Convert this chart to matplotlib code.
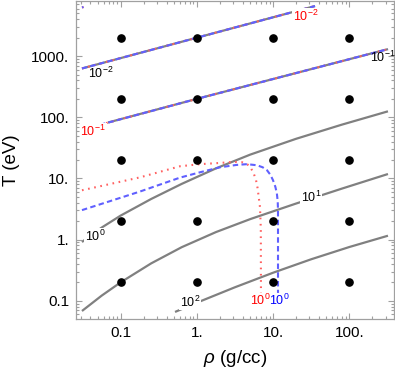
import matplotlib
matplotlib.use("Agg")
import matplotlib.pyplot as plt
from matplotlib.ticker import FixedLocator, FixedFormatter, LogLocator, NullFormatter

plt.rcParams['font.family'] = ['Liberation Sans', 'DejaVu Sans']
plt.rcParams['mathtext.fontset'] = 'custom'
plt.rcParams['mathtext.rm'] = 'Liberation Sans'
plt.rcParams['mathtext.it'] = 'Liberation Sans:italic'

# grid of sample points
dens_pts = [0.1, 1, 10, 100]
temp_pts = [0.2, 2, 20, 200, 2000]

# gray contours (coupling parameter)
g_m2_rho = [0.031, 1.0, 35.5]
g_m2_T = [628, 2000, 6580]
g_m1_rho = [0.068, 1.0, 322]
g_m1_T = [82, 200, 1300]
g_0_rho = [0.031, 0.0562, 0.1, 0.251, 0.631, 1.78, 5.01, 20.0, 79.4, 322]
g_0_T = [0.912, 1.57, 2.47, 4.61, 8.13, 14.6, 24.5, 44.4, 75.5, 125]
g_1_rho = [0.031, 0.0562, 0.1, 0.251, 0.631, 1.78, 5.01, 20.0, 79.4, 322]
g_1_T = [0.0679, 0.121, 0.200, 0.408, 0.750, 1.326, 2.16, 3.88, 6.79, 11.8]
g_2_rho = [0.516, 1.0, 3.16, 10, 31.6, 100, 322]
g_2_T = [0.0655, 0.0929, 0.166, 0.287, 0.476, 0.755, 1.156]

# red dotted contours
r_m2_rho = [0.031, 1.0, 35.5]
r_m2_T = [628, 2000, 6580]
r_m1_rho = [0.0535, 1.0, 322]
r_m1_T = [75.4, 200, 1300]
r_0_rho = [0.031, 0.179, 0.6, 1.10, 2.01, 3.0, 3.9, 4.6, 5.15, 5.6, 5.97, 6.25, 6.5, 6.73, 6.9, 6.93]
r_0_T = [6.4, 10.4, 15.8, 17.1, 17.9, 18.6, 18.4, 17.0, 14.5, 11.8, 9.35, 7.0, 4.8, 3.39, 1.5, 0.134]

# blue dashed contours
b_m2_rho = [0.031, 1.0, 35.5]
b_m2_T = [628, 2000, 6580]
b_m1_rho = [0.0535, 1.0, 322]
b_m1_T = [75.4, 200, 1300]
b_0_rho = [0.031, 0.179, 0.6, 1.10, 2.01, 3.3, 4.55, 6.15, 7.3, 8.32, 9.2, 9.97, 10.7, 11.2, 11.5, 11.6, 11.6]
b_0_T = [3.03, 6.1, 10.3, 12.6, 15.2, 16.6, 17.1, 16.4, 15.2, 13.6, 11.5, 9.35, 7.3, 5.73, 4.2, 3.0, 0.134]

# tiny fragment top-left
frag_rho = [0.031, 0.0325]
frag_T = [6240, 6350]

# contour labels
lab_text = [r'$\mathregular{10^{-2}}$', r'$\mathregular{10^{-2}}$', r'$\mathregular{10^{-1}}$',
            r'$\mathregular{10^{-1}}$', r'$\mathregular{10^{0}}$', r'$\mathregular{10^{1}}$',
            r'$\mathregular{10^{2}}$', r'$\mathregular{10^{0}}$', r'$\mathregular{10^{0}}$']
lab_rho = [0.0551, 27, 0.0434, 277, 0.0461, 31.4, 0.811, 6.73, 11.9]
lab_T = [522, 4450, 59, 953, 1.14, 4.93, 0.0953, 0.1026, 0.1026]
lab_col = ['k', 'red', 'red', 'k', 'k', 'k', 'k', 'red', 'blue']
lab_bg = [False, True, True, False, True, True, True, False, False]

xticks = [0.1, 1, 10, 100]
xticklabels = ['0.1', '1.', '10.', '100.']
yticks = [0.1, 1, 10, 100, 1000]
yticklabels = ['0.1', '1.', '10.', '100.', '1000.']

GRAY = '#808080'
RED = '#ff6060'
BLUE = '#6060ff'

fig = plt.figure(figsize=(3.95, 3.71), dpi=100)
ax = fig.add_axes([76/395, 52/371, 318/395, 318/371])
ax.set_xscale('log')
ax.set_yscale('log')
ax.set_xlim(10**-1.587, 10**2.587)
ax.set_ylim(10**-1.299, 10**3.901)

lw = 1.6
for rr, tt in [(g_m2_rho, g_m2_T), (g_m1_rho, g_m1_T), (g_0_rho, g_0_T),
               (g_1_rho, g_1_T), (g_2_rho, g_2_T)]:
    ax.plot(rr, tt, color=GRAY, lw=lw, solid_capstyle='butt', solid_joinstyle='round', zorder=2)
for rr, tt in [(r_m2_rho, r_m2_T), (r_m1_rho, r_m1_T), (r_0_rho, r_0_T), (frag_rho, frag_T)]:
    ax.plot(rr, tt, color=RED, lw=1.5, dashes=(0.8, 2.2), zorder=3)
for rr, tt in [(b_m2_rho, b_m2_T), (b_m1_rho, b_m1_T), (b_0_rho, b_0_T), (frag_rho, frag_T)]:
    ax.plot(rr, tt, color=BLUE, lw=1.5, dashes=(2.6, 1.6), zorder=4)

xs = [x for x in dens_pts for _ in temp_pts]
ys = [y for _ in dens_pts for y in temp_pts]
ax.plot(xs, ys, 'o', color='black', ms=5.2, zorder=6)

for t, x, y, c, bg in zip(lab_text, lab_rho, lab_T, lab_col, lab_bg):
    kw = {}
    if bg:
        kw['bbox'] = dict(facecolor='white', edgecolor='none', pad=0.5)
    ax.text(x, y, t, color=c, fontsize=9, ha='center', va='center', zorder=5,
            clip_on=False, **kw)

ax.xaxis.set_major_locator(FixedLocator(xticks))
ax.xaxis.set_major_formatter(FixedFormatter(xticklabels))
ax.yaxis.set_major_locator(FixedLocator(yticks))
ax.yaxis.set_major_formatter(FixedFormatter(yticklabels))
ax.xaxis.set_minor_locator(LogLocator(base=10, subs=range(2, 10), numticks=20))
ax.yaxis.set_minor_locator(LogLocator(base=10, subs=range(2, 10), numticks=20))
ax.xaxis.set_minor_formatter(NullFormatter())
ax.yaxis.set_minor_formatter(NullFormatter())

FRAME = '#a0a0a0'
for s in ax.spines.values():
    s.set_color(FRAME)
    s.set_linewidth(0.9)
ax.tick_params(which='both', direction='in', top=True, right=True, color=FRAME, width=0.8,
               labelsize=11, labelcolor='black')
ax.tick_params(which='major', length=4.5, pad=5)
ax.tick_params(which='minor', length=2.5)

ax.set_xlabel(r'$\rho$ (g/cc)', fontsize=13.5)
ax.set_ylabel('T (eV)', fontsize=13.5)
ax.xaxis.label.set_verticalalignment('center')
ax.xaxis.set_label_coords(0.5, -0.123)
ax.yaxis.set_label_coords(-0.176, 0.5)

fig.savefig('out.png', dpi=100)
